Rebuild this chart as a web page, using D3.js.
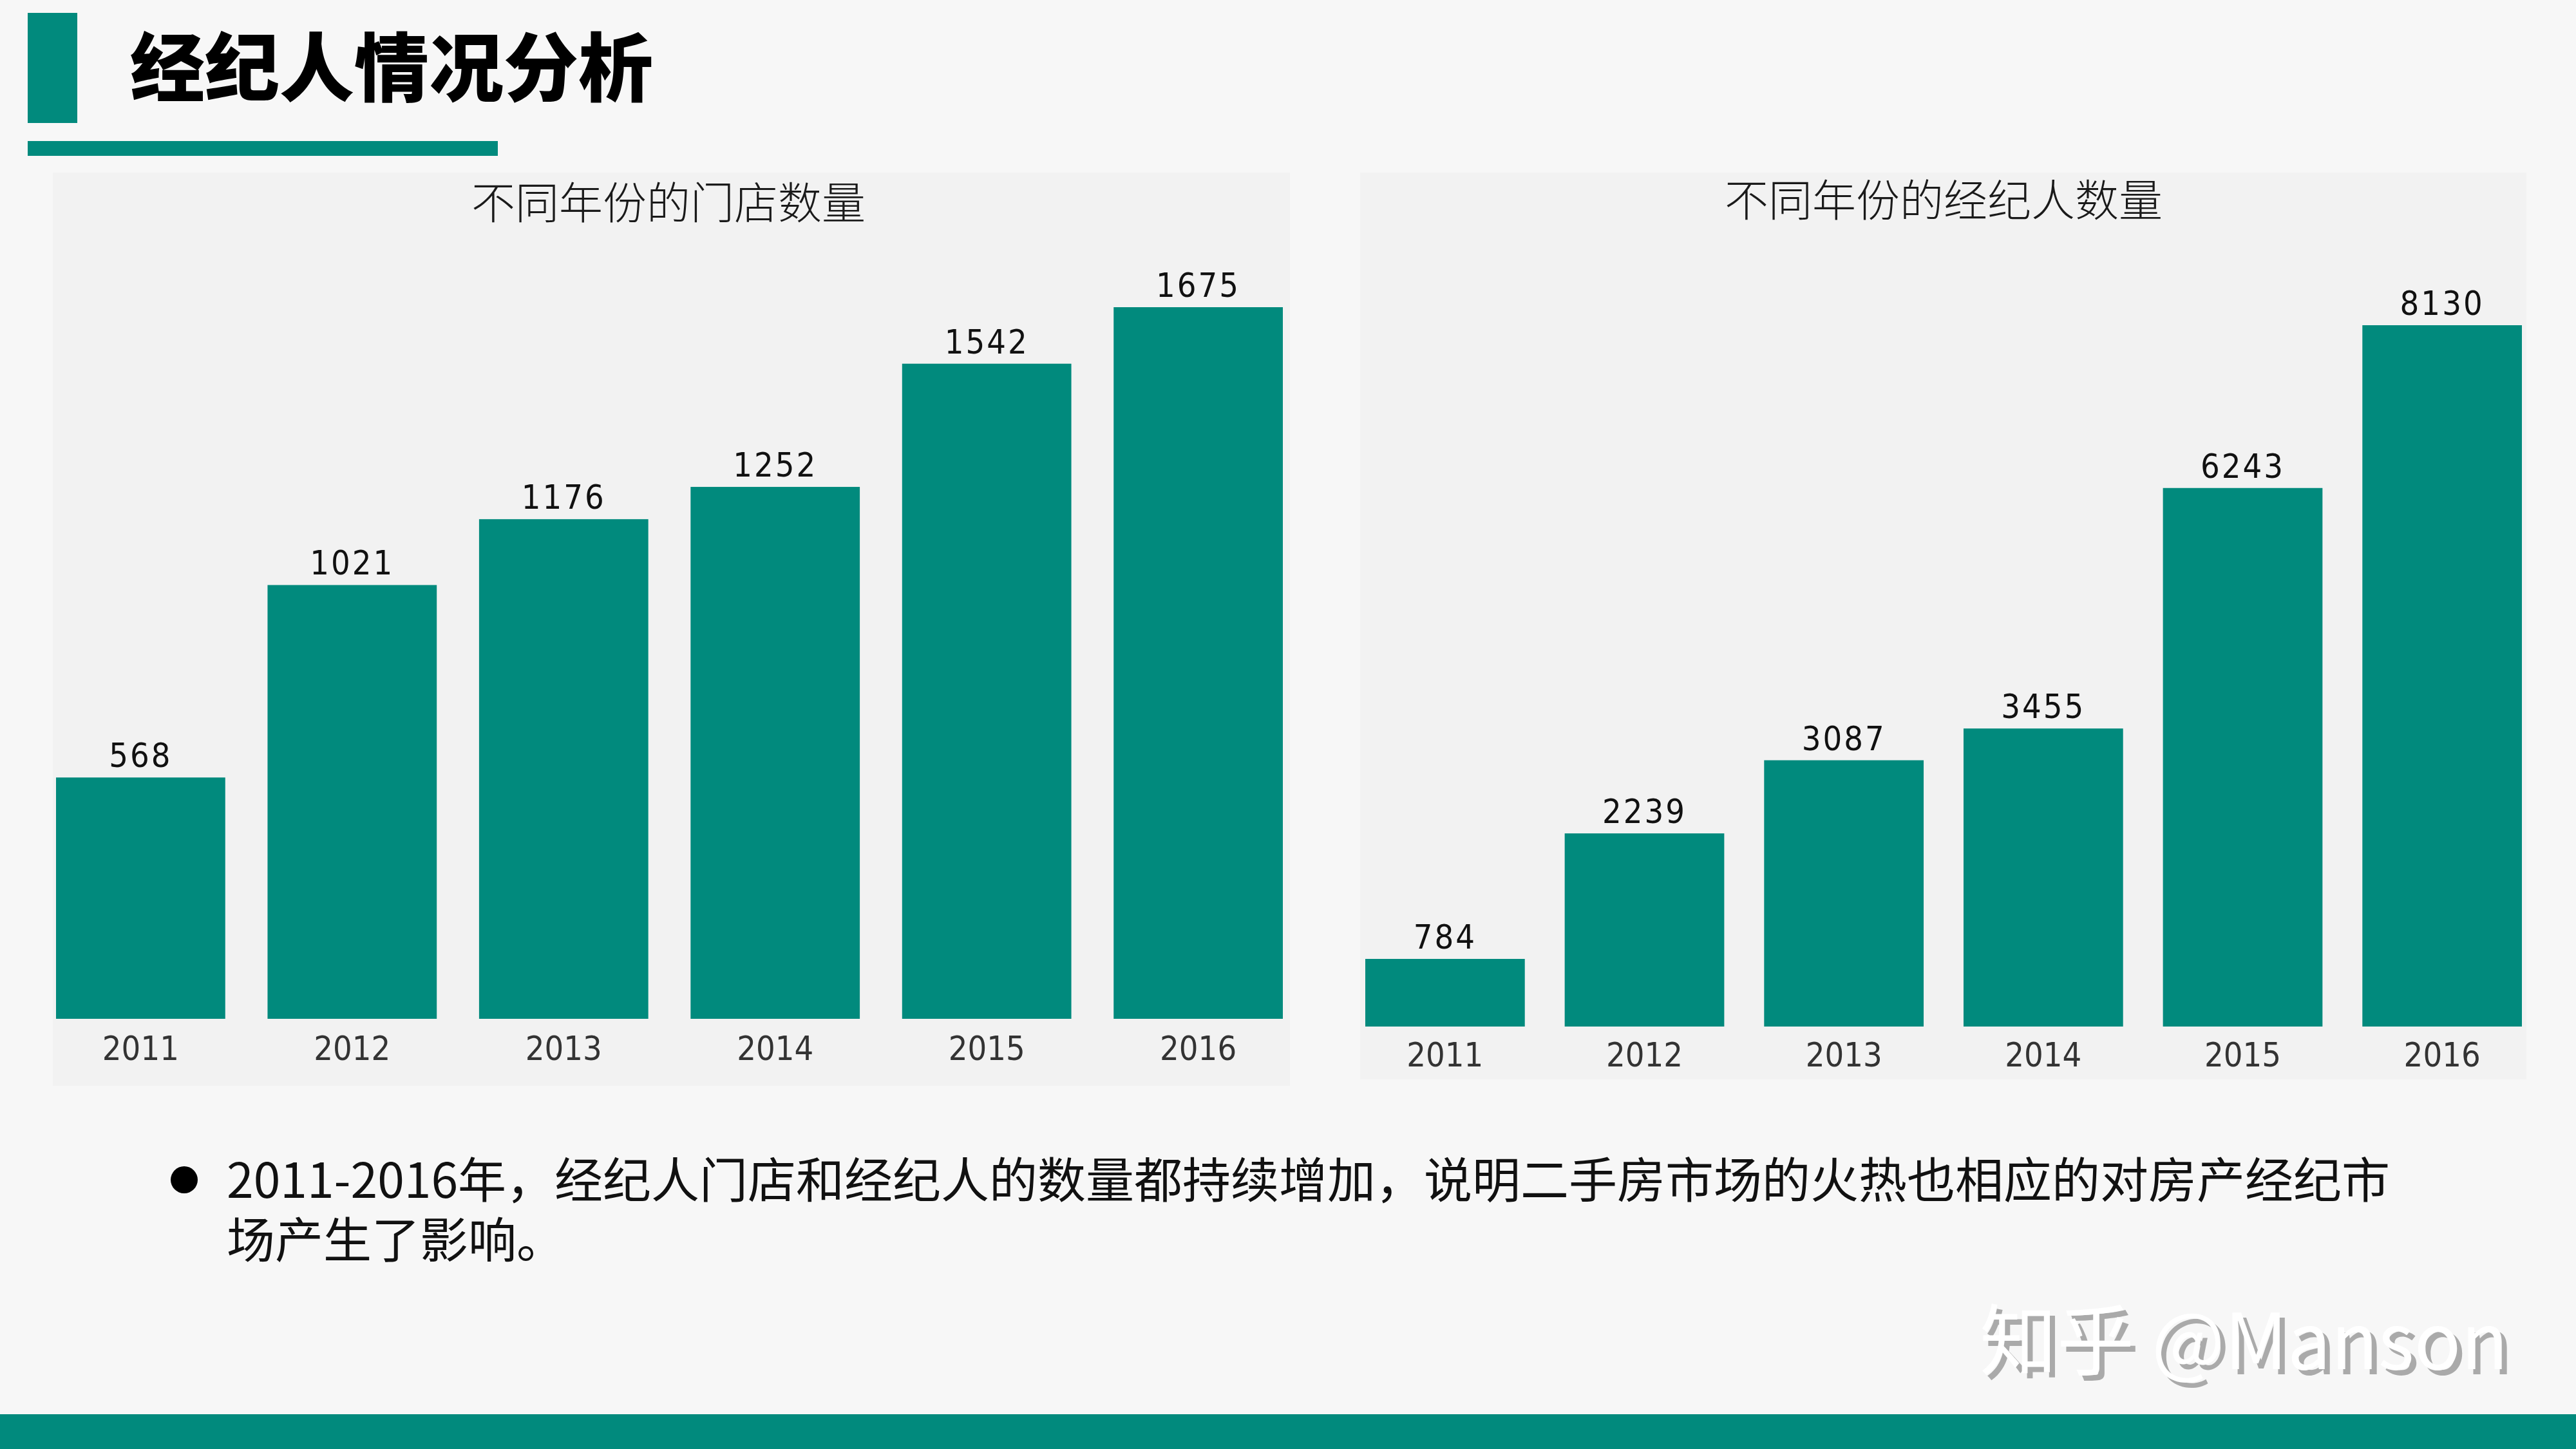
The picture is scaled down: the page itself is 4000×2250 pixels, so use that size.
<!DOCTYPE html>
<html>
<head>
<meta charset="utf-8">
<script src="https://cdnjs.cloudflare.com/ajax/libs/d3/7.8.5/d3.min.js"></script>
<style>
  body { margin: 0; background: #f7f7f7; }
  svg { display: block; }
</style>
</head>
<body>
<div id="slide"></div>
<script>
// Data
var years = ["2011", "2012", "2013", "2014", "2015", "2016"];
var storeCounts = [568, 1021, 1176, 1252, 1542, 1675];
var agentCounts = [784, 2239, 3087, 3455, 6243, 8130];
var pageTitle = "经纪人情况分析";
var storeTitle = "不同年份的门店数量";
var agentTitle = "不同年份的经纪人数量";
var bulletLines = [
  "2011-2016年，经纪人门店和经纪人的数量都持续增加，说明二手房市场的火热也相应的对房产经纪市",
  "场产生了影响。"
];

var teal = "#018a7d";
var cjk = "'Noto Sans CJK SC', 'Noto Sans', sans-serif";
var digits = "'DejaVu Sans Condensed', 'DejaVu Sans', sans-serif";

var svgWidth = 4000;
var svgHeight = 2250;

var svg = d3.select("#slide")
  .append("svg")
  .attr("width", svgWidth)
  .attr("height", svgHeight);

svg.append("rect")
  .attr("width", svgWidth)
  .attr("height", svgHeight)
  .attr("fill", "#f7f7f7");

// Header
svg.append("rect")
  .attr("x", 43).attr("y", 20)
  .attr("width", 77).attr("height", 171)
  .attr("fill", teal);

svg.append("rect")
  .attr("x", 43).attr("y", 219)
  .attr("width", 730).attr("height", 23)
  .attr("fill", teal);

svg.append("text")
  .attr("x", 202)
  .attr("y", 148)
  .attr("font-family", cjk)
  .attr("font-weight", 900)
  .attr("font-size", 116)
  .attr("fill", "#000")
  .text(pageTitle);

// Bar chart panel
function drawPanel(cfg) {
  var g = svg.append("g");

  g.append("rect")
    .attr("x", cfg.panel[0]).attr("y", cfg.panel[1])
    .attr("width", cfg.panel[2]).attr("height", cfg.panel[3])
    .attr("fill", "#f2f2f2");

  g.append("text")
    .attr("x", cfg.titleX)
    .attr("y", cfg.titleY)
    .attr("text-anchor", "middle")
    .attr("font-family", cjk)
    .attr("font-weight", 300)
    .attr("font-size", 68)
    .attr("fill", "#1a1a1a")
    .text(cfg.title);

  var x = d3.scaleBand()
    .domain(years)
    .range(cfg.xRange)
    .paddingInner(0.2)
    .paddingOuter(0);

  var y = d3.scaleLinear()
    .domain([0, d3.max(cfg.values)])
    .range([cfg.baseline, cfg.top]);

  var rows = years.map(function(d, i) { return { year: d, value: cfg.values[i] }; });

  g.selectAll(".bar")
    .data(rows)
    .enter()
    .append("rect")
    .attr("class", "bar")
    .attr("x", d => x(d.year))
    .attr("y", d => y(d.value))
    .attr("width", x.bandwidth())
    .attr("height", d => y(0) - y(d.value))
    .attr("fill", teal);

  g.selectAll(".val")
    .data(rows)
    .enter()
    .append("text")
    .attr("class", "val")
    .attr("x", d => x(d.year) + x.bandwidth() / 2)
    .attr("y", d => y(d.value) - 16)
    .attr("text-anchor", "middle")
    .attr("font-family", digits)
    .attr("font-size", 52)
    .attr("letter-spacing", 3)
    .attr("fill", "#111")
    .text(d => d.value);

  // category axis, no line or ticks
  var axis = g.append("g")
    .attr("transform", `translate(0, ${cfg.baseline})`)
    .call(d3.axisBottom(x).tickSize(0).tickPadding(0));
  axis.select(".domain").remove();
  axis.selectAll("text")
    .attr("dy", 0)
    .attr("y", cfg.labelDy)
    .attr("font-family", digits)
    .attr("font-size", 52)
    .attr("fill", "#333");
}

drawPanel({
  panel: [82, 268, 1921, 1418],
  title: storeTitle,
  titleX: 1038, titleY: 340,
  xRange: [87, 1992],
  baseline: 1582, top: 477,
  values: storeCounts,
  labelDy: 64
});

drawPanel({
  panel: [2112, 268, 1811, 1408],
  title: agentTitle,
  titleX: 3018, titleY: 336,
  xRange: [2120, 3916],
  baseline: 1594, top: 505,
  values: agentCounts,
  labelDy: 62
});

// Bullet note
svg.append("circle")
  .attr("cx", 286).attr("cy", 1832).attr("r", 21)
  .attr("fill", "#000");

var note = svg.append("text")
  .attr("font-family", cjk)
  .attr("font-size", 75)
  .attr("fill", "#111");
note.selectAll("tspan")
  .data(bulletLines)
  .enter()
  .append("tspan")
  .attr("x", 352)
  .attr("y", (d, i) => 1860 + i * 93)
  .text(d => d);

// Watermark
var mark = "知乎 @Manson";
svg.append("text")
  .attr("x", 3082).attr("y", 2134)
  .attr("font-family", cjk)
  .attr("font-size", 120)
  .attr("fill", "#aaaaaa")
  .text(mark);
svg.append("text")
  .attr("x", 3074).attr("y", 2126)
  .attr("font-family", cjk)
  .attr("font-size", 120)
  .attr("fill", "#ffffff")
  .text(mark);

// Footer strip
svg.append("rect")
  .attr("x", 0).attr("y", 2196)
  .attr("width", svgWidth).attr("height", 54)
  .attr("fill", teal);
</script>
</body>
</html>
